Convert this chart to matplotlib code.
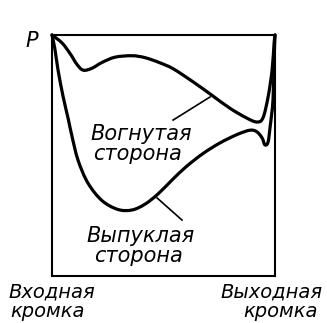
import numpy as np
import matplotlib
matplotlib.use("Agg")
import matplotlib.pyplot as plt
from matplotlib.path import Path
from matplotlib.patches import PathPatch

# position along the blade chord (%), pressure (% of max)
concave_x = [0, 4.5, 8.1, 11.2, 14.0, 17.9, 22.4, 28.3, 35.9, 41.7, 48.0, 54.3,
             63.2, 71.7, 79.8, 87.4, 91.9, 94.6, 96.9, 98.7, 99.6, 100]
concave_p = [100, 96.7, 92.3, 87.8, 85.4, 86.2, 88.6, 90.8, 91.4, 90.6, 88.6, 86.0,
             80.6, 75.0, 69.6, 65.5, 63.9, 65.6, 74.3, 85.5, 96.7, 100]

convex_x = [0, 1.3, 2.7, 4.9, 7.2, 9.0, 11.7, 16.1, 22.4, 29.6, 35.9, 41.7, 47.5,
            53.8, 60.1, 67.7, 75.3, 83.0, 88.8, 91.9, 94.2, 95.5, 96.9, 97.8,
            99.1, 99.6, 100]
convex_p = [100, 94.2, 85.5, 74.8, 65.5, 57.8, 48.0, 38.6, 31.3, 27.6, 27.4, 29.8,
            34.0, 39.8, 45.3, 50.8, 55.2, 58.7, 60.5, 59.8, 57.3, 54.4, 55.6,
            61.8, 73.0, 89.6, 100]

side_top = ["Вогнутая", "сторона"]
side_bottom = ["Выпуклая", "сторона"]
edge_in = ["Входная", "кромка"]
edge_out = ["Выходная", "кромка"]


def smooth_path(xs, ys):
    # Catmull-Rom through the points, drawn as cubic Bezier segments
    pts = np.column_stack([xs, ys]).astype(float)
    n = len(pts)
    verts = [pts[0]]
    codes = [Path.MOVETO]
    for i in range(n - 1):
        p0 = pts[max(i - 1, 0)]
        p1 = pts[i]
        p2 = pts[i + 1]
        p3 = pts[min(i + 2, n - 1)]
        c1 = p1 + (p2 - p0) / 6.0
        c2 = p2 - (p3 - p1) / 6.0
        verts += [c1, c2, p2]
        codes += [Path.CURVE4] * 3
    return Path(verts, codes)


fig = plt.figure(figsize=(3.27, 3.23), dpi=100)
ax = fig.add_axes([52 / 327, 47 / 323, 223 / 327, 241 / 323])
ax.set_xlim(0, 100)
ax.set_ylim(0, 100)
ax.set_xticks([])
ax.set_yticks([])
for s in ax.spines.values():
    s.set_linewidth(1.5)

for xs, ys in [(concave_x, concave_p), (convex_x, convex_p)]:
    ax.add_patch(PathPatch(smooth_path(xs, ys), fill=False, lw=2.3,
                           color="black", clip_on=False, capstyle="round",
                           joinstyle="round"))

# leader lines to the side labels
ax.plot([70.9, 54.3], [74.3, 64.7], color="black", lw=1.2)
ax.plot([47.1, 58.3], [32.4, 23.2], color="black", lw=1.2)

tk = dict(fontsize=15, style="italic", family="DejaVu Sans", ha="center",
          va="baseline", clip_on=False)
ax.text(39.9, 56.4, side_top[0], **tk)
ax.text(38.1, 48.1, side_top[1], **tk)
ax.text(39.9, 14.1, side_bottom[0], **tk)
ax.text(38.6, 5.8, side_bottom[1], **tk)
ax.text(-9.0, 95.0, "P", **tk)

tk["fontsize"] = 14
ax.text(0.0, -9.1, edge_in[0], **tk)
ax.text(-2.2, -17.0, edge_in[1], **tk)
ax.text(98.6, -9.1, edge_out[0], **tk)
ax.text(102.6, -17.0, edge_out[1], **tk)

fig.savefig("out.png", dpi=100)
